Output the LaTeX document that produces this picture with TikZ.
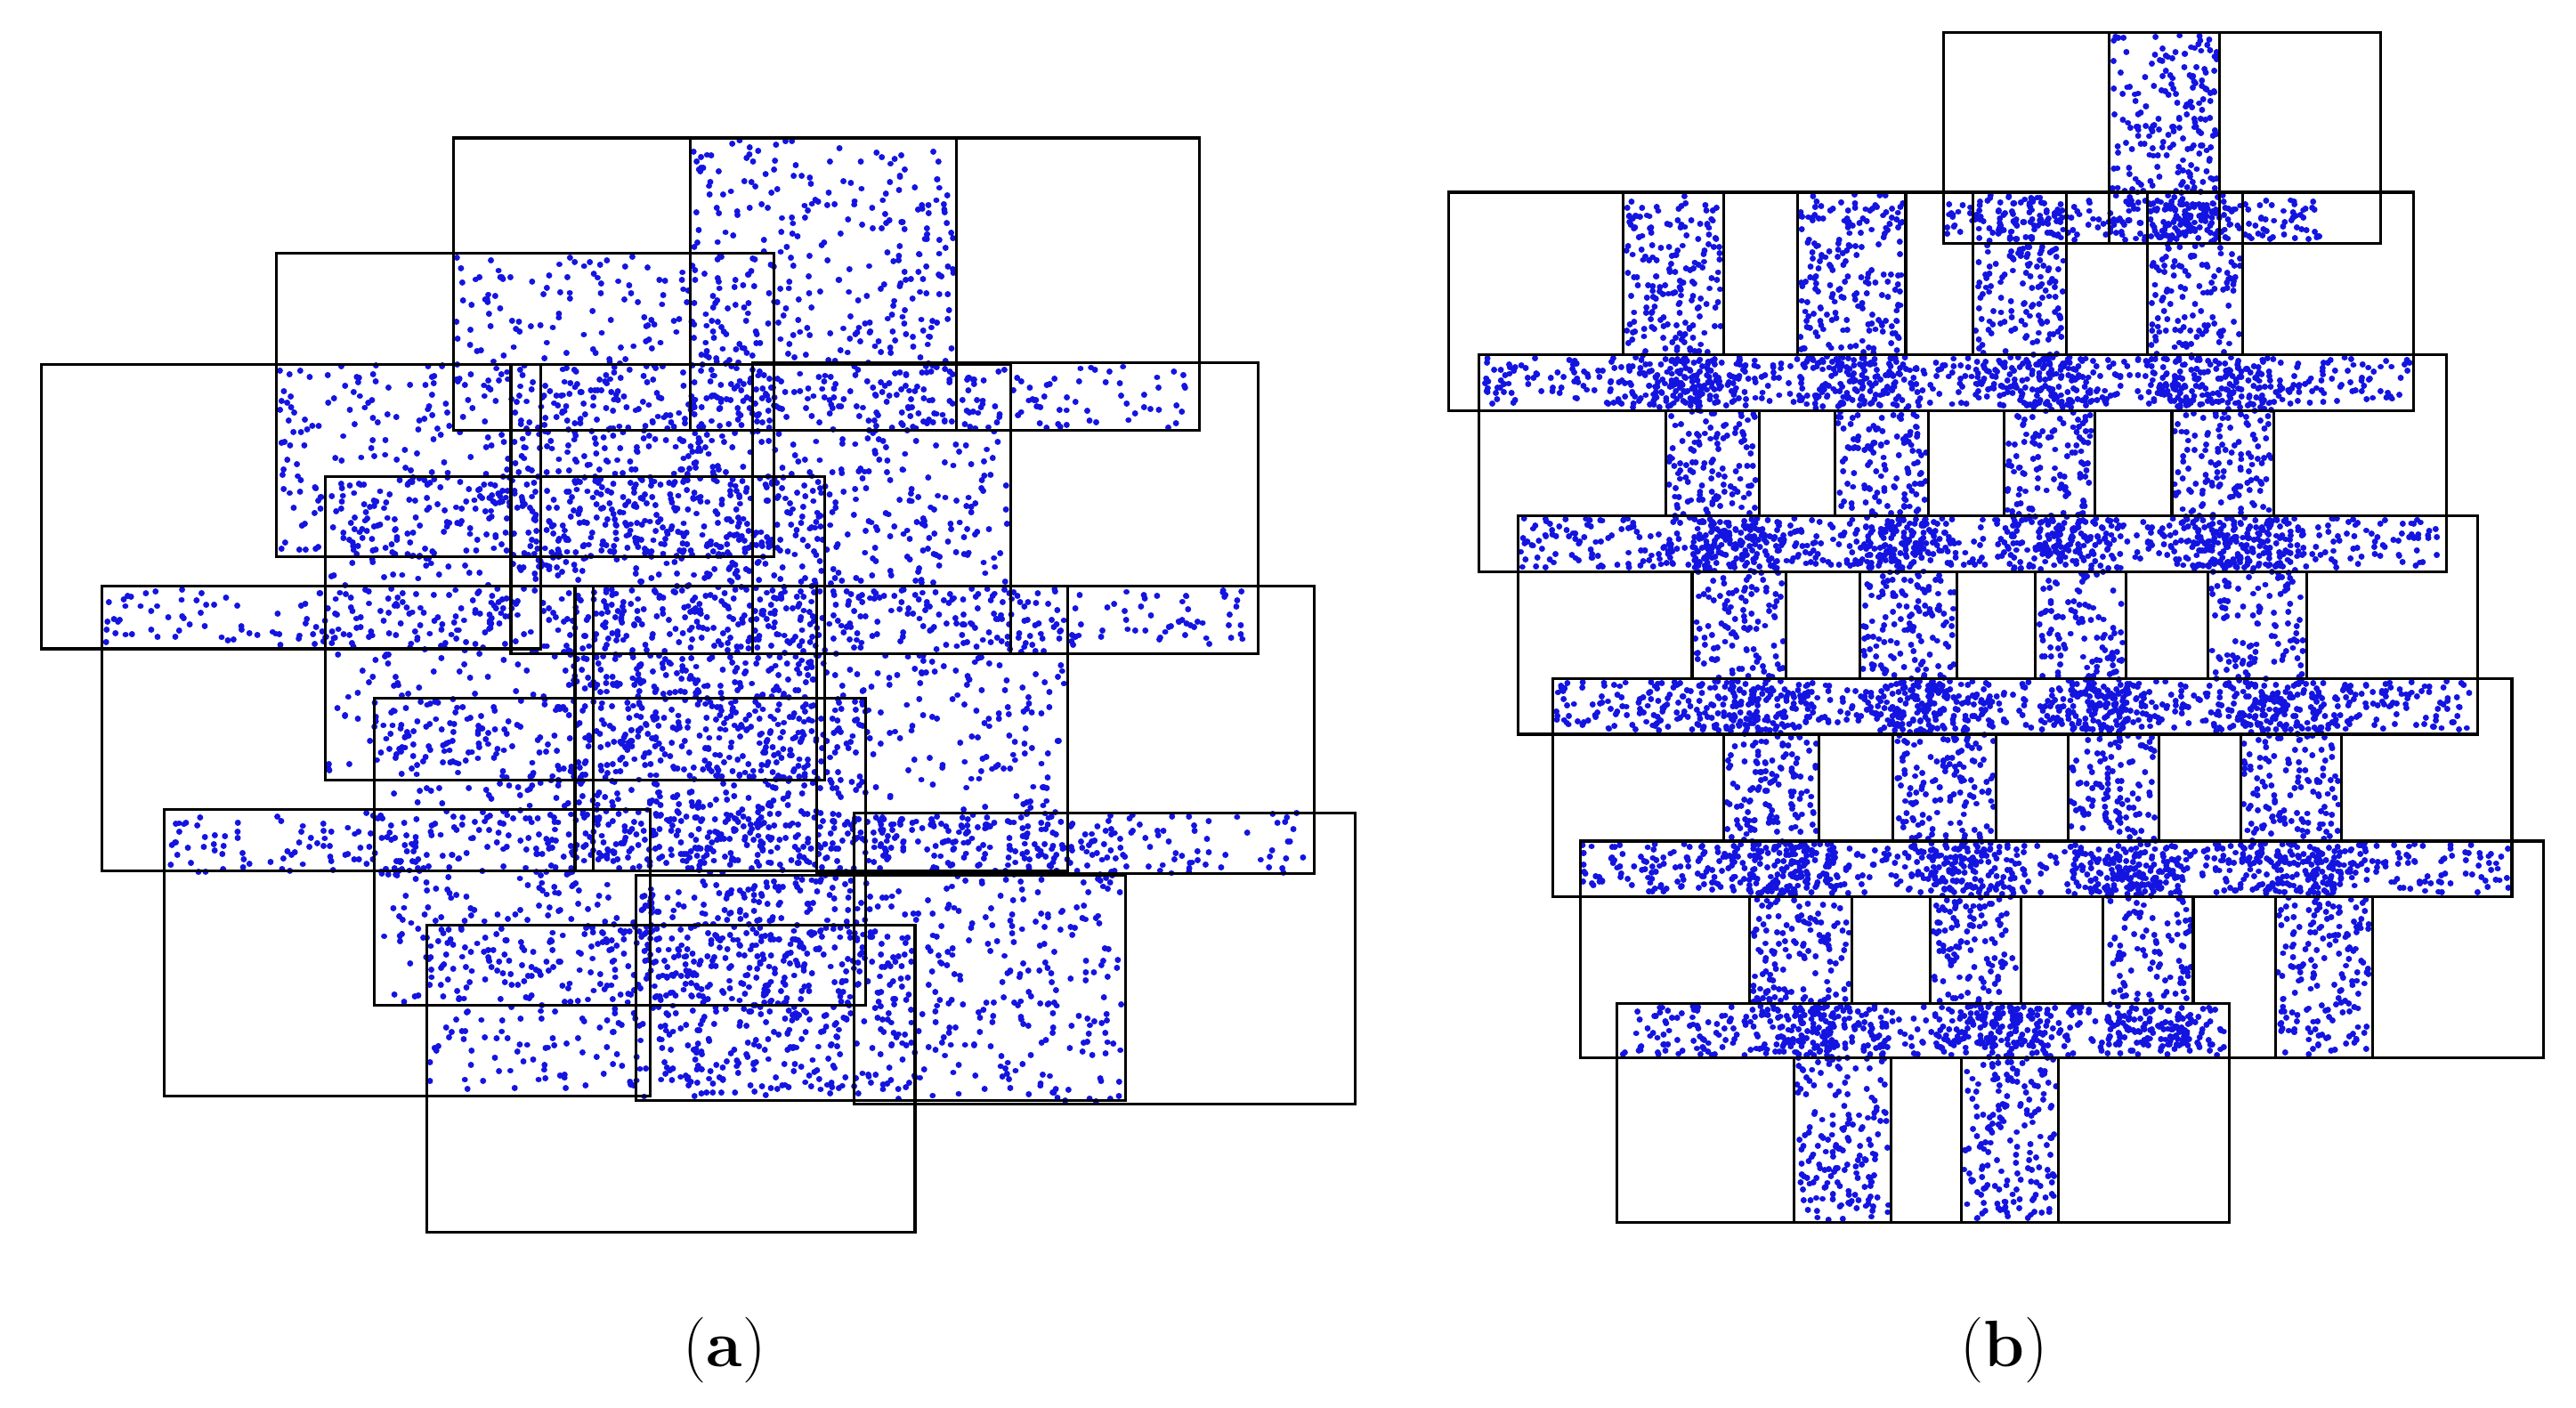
\documentclass[tikz,border=0pt]{standalone}
\usepackage{tikz}
\definecolor{dotblue}{RGB}{20,20,225}
\makeatletter
\newdimen\dtXa \newdimen\dtYa \newdimen\dtW \newdimen\dtH \newdimen\dtXo \newdimen\dtYo \newdimen\dtXb
\newcount\dtN
% \dotrect{x0}{y0}{x1}{y1}{pixels per dot} -- coordinates in reference pixels (y down)
\newcommand\dotrect[5]{%
  \dtN=\numexpr((#3-#1)*(#4-#2))/#5\relax
  \dtW=\dimexpr #3pt-#1pt-3pt\relax \dtW=0.5\dtW
  \dtH=\dimexpr #2pt-#4pt+3pt\relax \dtH=0.5\dtH
  \dtXo=\dimexpr#1pt+1.5pt\relax \dtXo=0.5\dtXo
  \dtYo=\dimexpr-#2pt-1.5pt\relax \dtYo=0.5\dtYo
  \loop
    \pgfmathrnd\let\dtrx\pgfmathresult
    \pgfmathrnd\let\dtry\pgfmathresult
    \dtXa=\dtrx\dtW \advance\dtXa\dtXo
    \dtYa=\dtry\dtH \advance\dtYa\dtYo
    \dtXb=\dtXa \advance\dtXb 0.02pt
    \pgfpathmoveto{\pgfqpoint{\dtXa}{\dtYa}}%
    \pgfpathlineto{\pgfqpoint{\dtXb}{\dtYa}}%
    \advance\dtN\m@ne
  \ifnum\dtN>\z@\repeat
  \pgfusepath{stroke}%
}
\makeatother
\begin{document}
\begin{tikzpicture}[x=0.5pt,y=-0.5pt,
  frame/.style={draw=black,line width=0.85pt},
  panellabel/.style={font=\fontsize{20}{24}\selectfont,inner sep=0pt}]
\fill[white] (0,0) rectangle (1568,857);
\path[use as bounding box] (0,0) rectangle (1568,857);
\pgfmathsetseed{4711}
\begin{pgfscope}
\pgfsetstrokecolor{dotblue}
\pgfsetlinewidth{1.85pt}
\pgfsetroundcap
% ---------------- panel (a): particles ----------------
\dotrect{420}{84}{582}{262}{82}
\dotrect{275}{154}{471}{339}{82}
\dotrect{168}{221}{275}{339}{82}
\dotrect{582}{221}{727}{262}{82}
\dotrect{311}{221}{615}{357}{82}
\dotrect{63}{357}{760}{395}{82}
\dotrect{198}{290}{502}{475}{82}
\dotrect{350}{357}{650}{530}{82}
\dotrect{100}{493}{800}{533}{82}
\dotrect{229}{425}{527}{612}{82}
\dotrect{260}{563}{557}{665}{82}
\dotrect{520}{495}{685}{672}{82}
\dotrect{387}{533}{520}{670}{82}
% ---------------- panel (b): particles ----------------
% vertical strips
\dotrect{1284}{20}{1351}{148}{34}
\dotrect{988}{117}{1049}{250}{34}
\dotrect{1094}{117}{1160}{250}{34}
\dotrect{1201}{117}{1258}{250}{34}
\dotrect{1307}{117}{1365}{250}{34}
\dotrect{1014}{216}{1071}{348}{34}
\dotrect{1117}{216}{1174}{348}{34}
\dotrect{1220}{216}{1275}{348}{34}
\dotrect{1322}{216}{1384}{348}{34}
\dotrect{1030}{314}{1087}{447}{34}
\dotrect{1132}{314}{1191}{447}{34}
\dotrect{1239}{314}{1294}{447}{34}
\dotrect{1344}{314}{1404}{447}{34}
\dotrect{1049}{413}{1107}{546}{34}
\dotrect{1152}{413}{1215}{546}{34}
\dotrect{1259}{413}{1314}{546}{34}
\dotrect{1364}{413}{1425}{546}{34}
\dotrect{1065}{512}{1127}{644}{34}
\dotrect{1175}{512}{1230}{644}{34}
\dotrect{1280}{512}{1335}{644}{34}
\dotrect{1385}{512}{1444}{644}{34}
\dotrect{1092}{611}{1151}{744}{34}
\dotrect{1194}{611}{1253}{744}{34}
% horizontal bands
\dotrect{1183}{120}{1415}{148}{34}
\dotrect{900}{216}{1469}{248}{34}
\dotrect{924}{314}{1489}{347}{34}
\dotrect{945}{413}{1508}{446}{34}
\dotrect{961}{512}{1529}{545}{34}
\dotrect{984}{611}{1356}{644}{34}
\end{pgfscope}
% ---------------- panel (a): cell frames ----------------
\draw[frame] (276,84) rectangle (582,262);
\draw[frame] (420,84) rectangle (730,262);
\draw[frame] (168,154) rectangle (471,339);
\draw[frame] (25,222) rectangle (329,395);
\draw[frame] (311,222) rectangle (615,398);
\draw[frame] (458,221) rectangle (766,398);
\draw[frame] (198,290) rectangle (502,475);
\draw[frame] (62,357) rectangle (361,530);
\draw[frame] (350,357) rectangle (650,530);
\draw[frame] (497,357) rectangle (800,532);
\draw[frame] (228,425) rectangle (527,612);
\draw[frame] (100,493) rectangle (396,667);
\draw[frame] (387,533) rectangle (685,670);
\draw[frame] (520,495) rectangle (825,672);
\draw[frame] (260,563) rectangle (557,750);
% ---------------- panel (b): cell frames ----------------
\draw[frame] (1183,20) rectangle (1449,148);
\draw[frame] (882,117) rectangle (1469,250);
\draw[frame] (900,216) rectangle (1489,348);
\draw[frame] (924,314) rectangle (1508,447);
\draw[frame] (945,413) rectangle (1529,546);
\draw[frame] (962,512) rectangle (1548,644);
\draw[frame] (984,611) rectangle (1357,744);
% strip sides
\draw[frame] (1284,20) rectangle (1351,148);
\draw[frame] (988,117) rectangle (1049,216);
\draw[frame] (1094,117) rectangle (1160,216);
\draw[frame] (1201,117) rectangle (1258,216);
\draw[frame] (1307,117) rectangle (1365,216);
\draw[frame] (1014,250) rectangle (1071,314);
\draw[frame] (1117,250) rectangle (1174,314);
\draw[frame] (1220,250) rectangle (1275,314);
\draw[frame] (1322,250) rectangle (1384,314);
\draw[frame] (1030,348) rectangle (1087,413);
\draw[frame] (1132,348) rectangle (1191,413);
\draw[frame] (1239,348) rectangle (1294,413);
\draw[frame] (1344,348) rectangle (1404,413);
\draw[frame] (1049,447) rectangle (1107,512);
\draw[frame] (1152,447) rectangle (1215,512);
\draw[frame] (1259,447) rectangle (1314,512);
\draw[frame] (1364,447) rectangle (1425,512);
\draw[frame] (1065,546) rectangle (1127,611);
\draw[frame] (1175,546) rectangle (1230,611);
\draw[frame] (1280,546) rectangle (1335,611);
\draw[frame] (1385,546) rectangle (1444,644);
\draw[frame] (1092,644) rectangle (1151,744);
\draw[frame] (1194,644) rectangle (1253,744);
% ---------------- labels ----------------
\node[panellabel] (laba) at (441,822) {(\textbf{a})};
\node[panellabel] (labb) at (1220,822) {(\textbf{b})};
\end{tikzpicture}
\end{document}
